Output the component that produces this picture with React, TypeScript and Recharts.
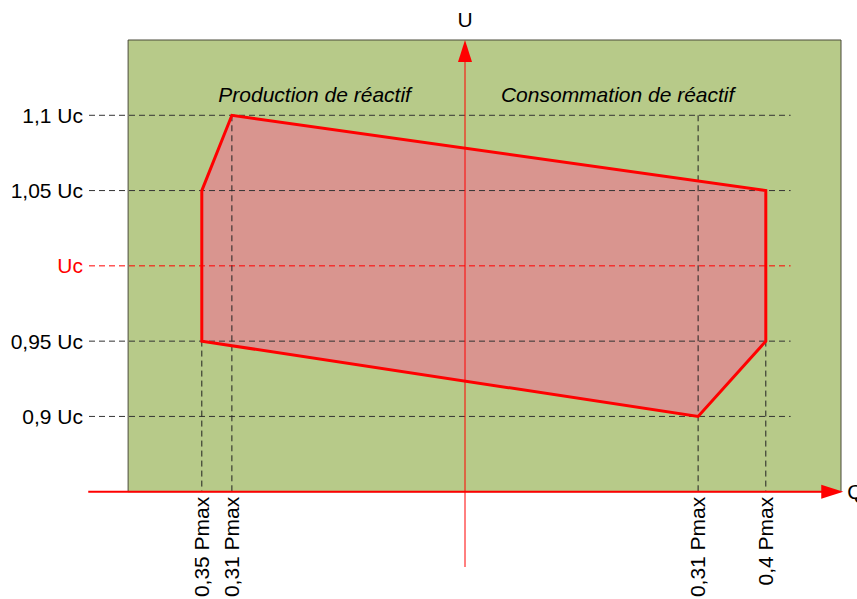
import React from 'react';
import { ComposedChart, XAxis, YAxis, Scatter, ReferenceLine, ReferenceArea } from 'recharts';

// Q axis in Pmax units, U axis in Uc units
const capabilityQ = [-0.35, -0.31, 0.4, 0.4, 0.31, -0.35];
const capabilityU = [1.05, 1.1, 1.05, 0.95, 0.9, 0.95];

const uLevels = [1.1, 1.05, 1, 0.95, 0.9];
const uLabels = ['1,1 Uc', '1,05 Uc', 'Uc', '0,95 Uc', '0,9 Uc'];

const qLevels = [-0.35, -0.31, 0.31, 0.4];
const qTops = [1.05, 1.1, 1.1, 1.05];
const qLabels = ['0,35 Pmax', '0,31 Pmax', '0,31 Pmax', '0,4 Pmax'];

const zoneTitles = ['Production de réactif', 'Consommation de réactif'];
const zoneQ = [-0.2, 0.203];
const zoneU = [1.1085, 1.1085];

const FONT = '"Liberation Sans", Arial, sans-serif';
const RED = '#ff0000';

const polygonData = capabilityQ.map((q, i) => ({ q, u: capabilityU[i] }));
const titleData = zoneTitles.map((t, i) => ({ q: zoneQ[i], u: zoneU[i], text: t }));

const toPoints = (p: any) => p.points.map((pt: any) => `${pt.x},${pt.y}`).join(' ');

// fill goes under the dashed guides, the outline goes over them
const PolygonFill = (p: any) => <polygon points={toPoints(p)} fill="#d9958f" stroke="none" />;
const PolygonOutline = (p: any) => (
  <polygon points={toPoints(p)} fill="none" stroke={RED} strokeWidth={3} strokeLinejoin="miter" />
);

const TitleShape = (p: any) => (
  <text x={p.cx} y={p.cy} textAnchor="middle" fontFamily={FONT} fontSize={21} fontStyle="italic" fill="#000">
    {p.payload.text}
  </text>
);

const VerticalArrow = (p: any) => {
  const { x1, y1, y2 } = p;
  const top = Math.min(y1, y2);
  const bottom = Math.max(y1, y2);
  return (
    <g>
      <line x1={x1} y1={top + 20} x2={x1} y2={bottom} stroke={RED} strokeWidth={1} />
      <polygon points={`${x1},${top} ${x1 - 7},${top + 22} ${x1 + 7},${top + 22}`} fill={RED} />
      <text x={x1} y={top - 13} textAnchor="middle" fontFamily={FONT} fontSize={21} fill="#000">U</text>
    </g>
  );
};

const HorizontalArrow = (p: any) => {
  const { x1, x2, y1 } = p;
  const left = Math.min(x1, x2);
  const right = Math.max(x1, x2);
  return (
    <g>
      <line x1={left} y1={y1} x2={right - 20} y2={y1} stroke={RED} strokeWidth={2} />
      <polygon points={`${right},${y1} ${right - 22},${y1 - 7} ${right - 22},${y1 + 7}`} fill={RED} />
      <text x={right + 4} y={y1 + 7} fontFamily={FONT} fontSize={21} fill="#000">Q</text>
    </g>
  );
};

const renderQLabel = (text: string) => (props: any) => {
  const vb = props.viewBox || {};
  const x = vb.x;
  const y = vb.y + vb.height + 5;
  return (
    <text
      x={x}
      y={y}
      transform={`rotate(-90 ${x} ${y})`}
      textAnchor="end"
      dy="0.35em"
      fontFamily={FONT}
      fontSize={21}
      fill="#000"
    >
      {text}
    </text>
  );
};

export default function App() {
  return (
    <div style={{ position: 'absolute', left: 0, top: 0 }}>
      <ComposedChart width={857} height={599} margin={{ top: 40, right: 16, bottom: 32, left: 89 }}>
        <XAxis type="number" dataKey="q" domain={[-0.5, 0.5]} hide />
        <YAxis type="number" dataKey="u" domain={[0.8, 1.15]} hide />

        <ReferenceArea
          x1={-0.448}
          x2={0.5}
          y1={0.85}
          y2={1.15}
          fill="#b7ca89"
          fillOpacity={1}
          stroke="#4a4a3a"
          strokeWidth={1}
          zIndex={0}
        />

        <Scatter
          data={polygonData}
          isAnimationActive={false}
          line={PolygonFill}
          lineType="joint"
          shape={() => <g />}
          zIndex={100}
        />

        {uLevels.map((u, i) => (
          <ReferenceLine
            key={`u-${i}`}
            segment={[{ x: -0.5, y: u }, { x: 0.433, y: u }]}
            stroke={u === 1 ? RED : '#333'}
            strokeDasharray="6 4"
            strokeWidth={1}
            zIndex={700}
            label={{
              value: uLabels[i],
              position: 'left',
              offset: 6,
              fill: u === 1 ? RED : '#000',
              fontSize: 21,
              fontFamily: FONT,
            }}
          />
        ))}

        {qLevels.map((q, i) => (
          <ReferenceLine
            key={`q-${i}`}
            segment={[{ x: q, y: qTops[i] }, { x: q, y: 0.85 }]}
            stroke="#222"
            strokeDasharray="6 4"
            strokeWidth={1}
            zIndex={700}
            label={{ content: renderQLabel(qLabels[i]) }}
          />
        ))}

        <Scatter
          data={polygonData}
          isAnimationActive={false}
          line={PolygonOutline}
          lineType="joint"
          shape={() => <g />}
          zIndex={750}
        />

        <Scatter
          data={titleData}
          isAnimationActive={false}
          shape={TitleShape}
          zIndex={800}
        />

        <ReferenceLine
          segment={[{ x: 0, y: 0.8 }, { x: 0, y: 1.15 }]}
          ifOverflow="visible"
          shape={VerticalArrow}
          zIndex={800}
        />
        <ReferenceLine
          segment={[{ x: -0.501, y: 0.85 }, { x: 0.503, y: 0.85 }]}
          ifOverflow="visible"
          shape={HorizontalArrow}
          zIndex={800}
        />
      </ComposedChart>
    </div>
  );
}
